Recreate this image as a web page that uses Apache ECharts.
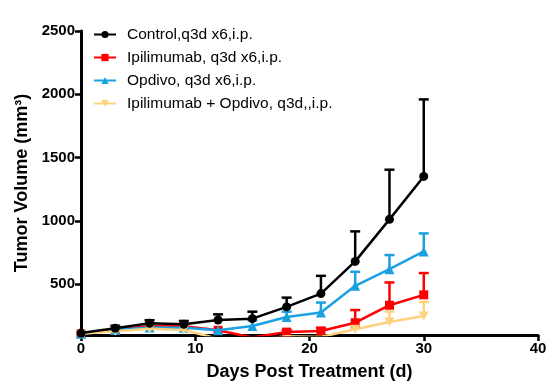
<!DOCTYPE html>
<html><head><meta charset="utf-8">
<script src="https://cdn.jsdelivr.net/npm/echarts@6/dist/echarts.min.js"></script>
<style>html,body{margin:0;padding:0;background:#fff}#c{width:556px;height:391px}</style>
</head><body><div id="c"></div>
<script>
const days = [0, 3, 6, 9, 12, 15, 18, 21, 24, 27, 30];
const seriesNames = ['Control,q3d x6,i.p.', 'Ipilimumab, q3d x6,i.p.', 'Opdivo, q3d x6,i.p.', 'Ipilimumab + Opdivo, q3d,,i.p.'];
const controlMean = [115, 153, 192, 185, 218, 229, 322, 427, 681, 1013, 1352];
const controlErr  = [5, 20, 25, 26, 45, 55, 73, 140, 237, 392, 608];
const ipiMean = [112, 140, 172, 170, 137, 80, 123, 131, 197, 335, 417];
const ipiErr  = [0, 0, 0, 0, 0, 0, 15, 25, 100, 180, 172];
const opdMean = [110, 140, 160, 158, 137, 171, 242, 277, 488, 620, 760];
const opdErr  = [0, 0, 0, 0, 0, 45, 42, 79, 111, 111, 142];
const comboMean = [110, 130, 150, 140, 70, 60, 90, 85, 145, 203, 250];
const comboErr  = [0, 0, 0, 0, 0, 0, 0, 0, 10, 82, 111];
const yTicks = [500, 1000, 1500, 2000, 2500];
const xTicks = [0, 10, 20, 30, 40];

const colors = ['#000000', '#FF0000', '#1BA1E2', '#FFD27F'];
const symbols = ['circle', 'rect', 'triangle', 'path://M0,0 L10,0 L5,9 Z'];
const means = [controlMean, ipiMean, opdMean, comboMean];
const errs = [controlErr, ipiErr, opdErr, comboErr];

const series = [];
means.forEach((m, i) => {
  series.push({
    type: 'custom', name: seriesNames[i] + ' SEM', z: 1, clip: true,
    data: days.map((d, k) => [d, m[k], m[k] + errs[i][k]]),
    renderItem: function (params, api) {
      const p = api.coord([api.value(0), api.value(1)]);
      const t = api.coord([api.value(0), api.value(2)]);
      if (api.value(2) - api.value(1) <= 0) return null;
      const st = { stroke: colors[i], lineWidth: 2.5 };
      return { type: 'group', children: [
        { type: 'line', shape: { x1: p[0], y1: p[1], x2: t[0], y2: t[1] }, style: st },
        { type: 'line', shape: { x1: t[0] - 5, y1: t[1], x2: t[0] + 5, y2: t[1] }, style: st }
      ]};
    }
  });
});
means.forEach((m, i) => {
  series.push({
    type: 'line', name: seriesNames[i], z: i === 0 ? 10 : 3 + i, clip: true,
    data: days.map((d, k) => [d, m[k]]),
    symbol: symbols[i], symbolSize: i === 3 ? [10, 9] : (i === 2 ? 10 : 9),
    showAllSymbol: true,
    lineStyle: { color: colors[i], width: 2.5 },
    itemStyle: { color: colors[i] },
    emphasis: { disabled: true }
  });
});

const chart = echarts.init(document.getElementById('c'), null, { renderer: 'canvas' });
chart.setOption({
  animation: false,
  grid: { left: 81, right: 18, top: 31, bottom: 56, containLabel: false },
  legend: {
    orient: 'vertical', left: 93, top: 26, itemGap: 6, itemWidth: 22, itemHeight: 9, padding: 0,
    data: seriesNames,
    textStyle: { fontFamily: 'Liberation Sans, Arial', fontSize: 15.5, lineHeight: 17, color: '#000', padding: [0, 0, 0, 6] },
    selectedMode: false
  },
  xAxis: {
    type: 'value', min: 0, max: 40, interval: 10,
    name: 'Days Post Treatment (d)', nameLocation: 'middle', nameGap: 28,
    nameTextStyle: { fontFamily: 'Liberation Sans, Arial', fontWeight: 'bold', fontSize: 18, color: '#000' },
    axisLine: { show: true, lineStyle: { color: '#000', width: 3 } },
    axisTick: { show: true, length: 6, lineStyle: { color: '#000', width: 2.5 } },
    axisLabel: { fontFamily: 'Liberation Sans, Arial', fontWeight: 'bold', fontSize: 15, color: '#000', margin: 6,
      customValues: xTicks, formatter: v => String(v) },
    splitLine: { show: false }
  },
  yAxis: {
    type: 'value', min: 100, max: 2500,
    name: 'Tumor Volume (mm³)', nameLocation: 'middle', nameGap: 48,
    nameTextStyle: { fontFamily: 'Liberation Sans, Arial', fontWeight: 'bold', fontSize: 18, color: '#000' },
    axisLine: { show: true, lineStyle: { color: '#000', width: 3 } },
    axisTick: { show: true, length: 6, lineStyle: { color: '#000', width: 2.5 }, customValues: yTicks },
    axisLabel: { fontFamily: 'Liberation Sans, Arial', fontWeight: 'bold', fontSize: 15, color: '#000', margin: 6,
      customValues: yTicks, formatter: v => String(v) },
    splitLine: { show: false }
  },
  series: series
});
</script></body></html>
